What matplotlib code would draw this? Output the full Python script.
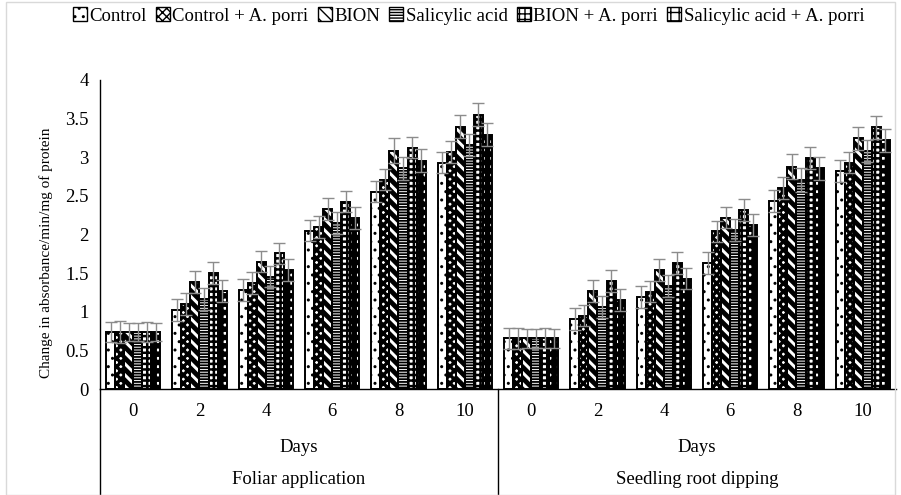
import matplotlib
matplotlib.use("Agg")
import matplotlib.pyplot as plt
import numpy as np
from matplotlib.patches import Patch, Rectangle
from matplotlib.legend_handler import HandlerTuple

plt.rcParams['font.family'] = ['Liberation Serif', 'DejaVu Serif']

days = ['0', '2', '4', '6', '8', '10']
methods = ['Foliar application', 'Seedling root dipping']
axis_title = 'Days'
series = ['Control', 'Control + A. porri', 'BION', 'Salicylic acid',
          'BION + A. porri', 'Salicylic acid + A. porri']

# values: foliar days then seedling days
control = [0.74, 1.02, 1.285, 2.05, 2.555, 2.93,
           0.655, 0.906, 1.187, 1.63, 2.43, 2.82]
control_ap = [0.74, 1.10, 1.37, 2.10, 2.71, 3.07,
              0.655, 0.95, 1.26, 2.04, 2.60, 2.93]
bion = [0.74, 1.385, 1.65, 2.33, 3.085, 3.395,
        0.655, 1.27, 1.54, 2.22, 2.88, 3.245]
salicylic = [0.74, 1.165, 1.455, 2.15, 2.857, 3.16,
             0.655, 1.065, 1.33, 2.06, 2.705, 3.08]
bion_ap = [0.74, 1.505, 1.755, 2.425, 3.125, 3.55,
           0.655, 1.395, 1.635, 2.32, 2.99, 3.39]
salicylic_ap = [0.74, 1.265, 1.54, 2.21, 2.955, 3.29,
                0.655, 1.15, 1.43, 2.12, 2.857, 3.22]

err_control = [0.13, 0.14, 0.14, 0.14, 0.14, 0.14, 0.14, 0.14, 0.14, 0.14, 0.14, 0.14]
err_control_ap = [0.14, 0.14, 0.14, 0.14, 0.14, 0.14, 0.14, 0.14, 0.14, 0.14, 0.14, 0.14]
err_bion = [0.12, 0.14, 0.14, 0.14, 0.16, 0.15, 0.12, 0.14, 0.14, 0.14, 0.16, 0.15]
err_salicylic = [0.12, 0.14, 0.14, 0.14, 0.15, 0.14, 0.12, 0.14, 0.14, 0.14, 0.15, 0.14]
err_bion_ap = [0.13, 0.14, 0.14, 0.14, 0.14, 0.15, 0.13, 0.14, 0.14, 0.14, 0.14, 0.15]
err_salicylic_ap = [0.12, 0.14, 0.14, 0.14, 0.15, 0.15, 0.12, 0.14, 0.14, 0.14, 0.15, 0.15]

values = [control, control_ap, bion, salicylic, bion_ap, salicylic_ap]
errors = [err_control, err_control_ap, err_bion, err_salicylic, err_bion_ap, err_salicylic_ap]

# styles: (face, hatch, hatch colour, hatch linewidth)
styles = [('white', '..', 'black', 1.0),
          ('white', 'xxxx', 'black', 2.4),
          ('white', '\\\\\\', 'black', 3.5),
          ('white', '------', 'black', 1.3),
          ('white', '+++', 'black', 1.8),
          ('white', '++', 'black', 4.0)]

W, H = 901, 495
fig = plt.figure(figsize=(W / 100, H / 100), dpi=100)
ax_left, ax_right = 100 / W, 896 / W
ax_bottom, ax_top = (H - 389) / H, (H - 80) / H
ax = fig.add_axes([ax_left, ax_bottom, ax_right - ax_left, ax_top - ax_bottom])

n_groups = len(days) * len(methods)
x = np.arange(n_groups)
bw = 0.136
handles = []
for i, (vals, errs) in enumerate(zip(values, errors)):
    face, hatch, hc, hlw = styles[i]
    pos = x + (i - 2.5) * bw
    with plt.rc_context({'hatch.linewidth': hlw}):
        ax.bar(pos, vals, bw, color=face, edgecolor=hc, hatch=hatch, linewidth=0, zorder=2)
        hp = Patch(facecolor=face, edgecolor=hc, hatch=hatch, linewidth=0)
    ax.bar(pos, vals, bw, facecolor='none', edgecolor='black', linewidth=1.4, zorder=3)
    ax.errorbar(pos, vals, yerr=errs, fmt='none', ecolor='#8c8c8c', elinewidth=1,
                capsize=4, capthick=1, zorder=4)
    handles.append((hp, Patch(facecolor='none', edgecolor='black', linewidth=1)))

ax.set_xlim(-0.5, n_groups - 0.5)
ax.set_ylim(0, 4)
yt = np.arange(0, 4.01, 0.5)
ax.set_yticks(yt)
ax.set_yticklabels([('%g' % v) for v in yt], fontsize=13.5)
ax.tick_params(axis='y', length=0, pad=8)
ax.set_xticks(x)
ax.set_xticklabels(days * len(methods), fontsize=13.5)
ax.tick_params(axis='x', length=0, pad=10)
for s in ['top', 'right']:
    ax.spines[s].set_visible(False)
ax.spines['left'].set_linewidth(1.0)
ax.spines['bottom'].set_linewidth(1.0)

ax.set_ylabel('Change in absorbance/min/mg of protein', fontsize=11)
ax.yaxis.set_label_coords((53 - 100) / 796, (389 - 253) / 309)

# multi-level category axis
tr = ax.get_xaxis_transform()
depth = -(495 - 389) / (389 - 80)
ax.plot([-0.5, -0.5], [0, depth], transform=tr, color='black', lw=1, clip_on=False)
ng = len(days)
for k in range(1, len(methods)):
    ax.plot([k * ng - 0.5] * 2, [0, depth], transform=tr, color='black', lw=1, clip_on=False)
y_days = -(447 - 389) / (389 - 80)
y_meth = -(480 - 389) / (389 - 80)
for k, m in enumerate(methods):
    cx = k * ng + (ng - 1) / 2
    ax.text(cx, y_days, axis_title, transform=tr, ha='center', va='center', fontsize=13.5)
    ax.text(cx, y_meth, m, transform=tr, ha='center', va='center', fontsize=13.5)

# legend
leg = fig.legend(handles, series, loc='center', bbox_to_anchor=(0.52, 1 - 16 / H), ncol=6,
                 frameon=False, fontsize=13.5, handlelength=0.75, handleheight=0.75,
                 handletextpad=0.12, columnspacing=0.5, borderaxespad=0,
                 handler_map={tuple: HandlerTuple(ndivide=1, pad=0)})

# outer chart border
fig.patches.append(Rectangle((6 / W, 0), 1 - 12 / W, 1 - 2 / H, transform=fig.transFigure,
                             fill=False, edgecolor='#d9d9d9', linewidth=1))

fig.savefig('out.png', dpi=100)
